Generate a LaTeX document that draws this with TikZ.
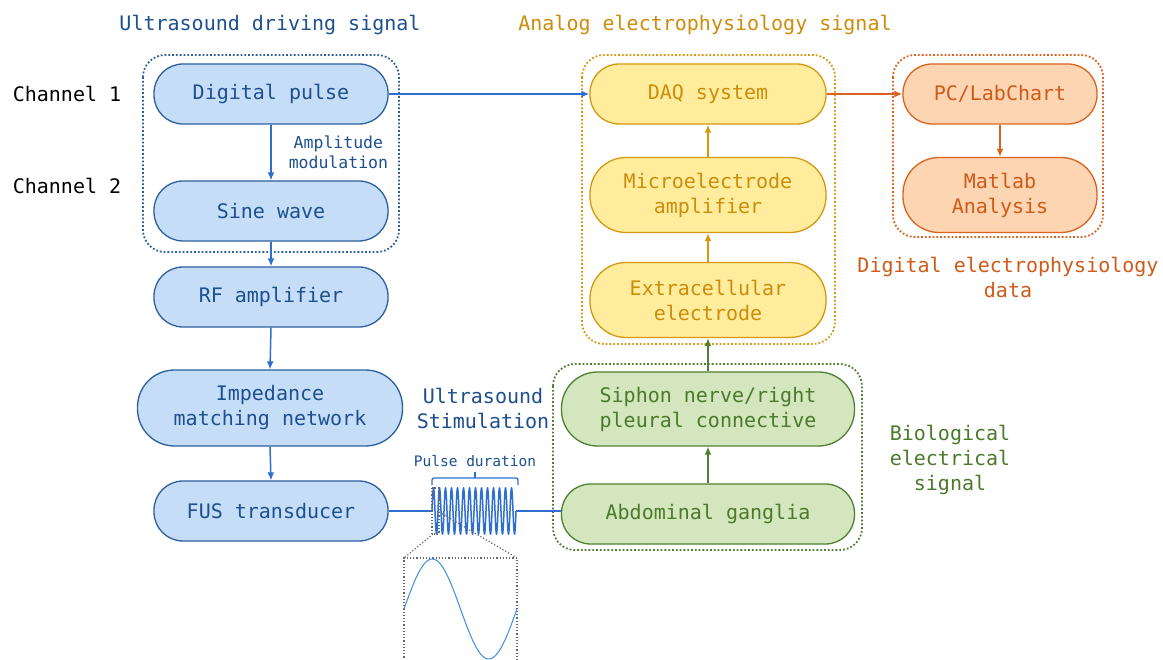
\documentclass[tikz,border=0pt]{standalone}
\usepackage{fontspec}
\newfontfamily\mono{DejaVu Sans Mono}
\usetikzlibrary{arrows.meta}
\definecolor{bfill}{HTML}{C5DDF7}
\definecolor{bdraw}{HTML}{2C5F9E}
\definecolor{btext}{HTML}{1E4F8F}
\definecolor{barrow}{HTML}{2F6FD1}
\definecolor{bsine}{HTML}{3A8EE0}
\definecolor{yfill}{HTML}{FFEC9C}
\definecolor{ydraw}{HTML}{D6980F}
\definecolor{ytext}{HTML}{CC8D0A}
\definecolor{ofill}{HTML}{FDD5B2}
\definecolor{odraw}{HTML}{D9631E}
\definecolor{otext}{HTML}{D05A18}
\definecolor{gfill}{HTML}{D4E6BE}
\definecolor{gdraw}{HTML}{4F7F30}
\definecolor{gtext}{HTML}{4A7A2A}
\definecolor{zoomgray}{HTML}{666666}
\begin{document}
\begin{tikzpicture}[x=1pt,y=-1pt,
  font=\mono\fontsize{20}{25}\selectfont,
  stage/.style={rectangle, line width=1.3pt, align=center, inner sep=0pt},
  blu/.style={stage, fill=bfill, draw=bdraw, text=btext},
  yel/.style={stage, fill=yfill, draw=ydraw, text=ytext},
  ora/.style={stage, fill=ofill, draw=odraw, text=otext},
  grn/.style={stage, fill=gfill, draw=gdraw, text=gtext},
  hsixty/.style={minimum height=60pt, rounded corners=29pt},
  hseventyfive/.style={minimum height=75pt, rounded corners=36pt},
  arr/.style={-{Latex[length=8pt,width=7pt]}, line width=1.5pt},
  grp/.style={dotted, line width=1.8pt, rounded corners=22pt},
  lbl/.style={align=center, inner sep=0pt},
]
\useasboundingbox (0,0) rectangle (1163,660);
\fill[white] (0,0) rectangle (1163,660);

% group containers
\draw[grp, draw=bdraw] (143,55) rectangle (399,252);
\draw[grp, draw=ydraw] (582,55) rectangle (835,344);
\draw[grp, draw=odraw] (893,55) rectangle (1103,237);
\draw[grp, draw=gdraw] (553,364) rectangle (862,550);

% titles
\node[lbl, text=btext] (t1) at (270,25) {Ultrasound driving signal};
\node[lbl, text=ytext] (t2) at (705,25) {Analog electrophysiology signal};
\node[lbl, text=otext] (t3) at (1008,277) {Digital electrophysiology\\data};
\node[lbl, text=gtext] (t4) at (950,460) {Biological\\electrical\\signal};
\node[lbl, text=btext] (t5) at (483,408) {Ultrasound\\Stimulation};
\node[lbl, text=black] (ch1) at (67,94) {Channel 1};
\node[lbl, text=black] (ch2) at (67,186) {Channel 2};

% blue chain
\node[blu, hsixty, minimum width=234pt] (dp) at (271,94) {Digital pulse};
\node[blu, hsixty, minimum width=234pt] (sw) at (271,211) {Sine wave};
\node[blu, hsixty, minimum width=234pt] (rf) at (271,297) {RF amplifier};
\node[blu, minimum height=76pt, rounded corners=37pt, minimum width=265pt] (imp) at (270,408) {Impedance\\matching network};
\node[blu, hsixty, minimum width=234pt] (fus) at (271,511) {FUS transducer};

% yellow chain
\node[yel, hsixty, minimum width=236pt] (daq) at (708,94) {DAQ system};
\node[yel, hseventyfive, minimum width=236pt] (mic) at (708,195) {Microelectrode\\amplifier};
\node[yel, hseventyfive, minimum width=236pt] (ext) at (708,300) {Extracellular\\electrode};

% orange chain
\node[ora, hsixty, minimum width=194pt] (pc) at (1000,94) {PC/LabChart};
\node[ora, hseventyfive, minimum width=194pt] (mat) at (1000,195) {Matlab\\Analysis};

% green chain
\node[grn, minimum height=74pt, rounded corners=36pt, minimum width=293pt] (sip) at (708,409) {Siphon nerve/right\\pleural connective};
\node[grn, hsixty, minimum width=293pt] (abd) at (708,514) {Abdominal ganglia};

% arrows
\draw[arr, draw=barrow] (dp.east) -- (daq.west);
\draw[arr, draw=barrow] (dp.south) -- (sw.north)
  node[midway, right=17pt, lbl, text=btext, font=\mono\fontsize{16.5}{20}\selectfont] (am) {Amplitude\\modulation};
\draw[arr, draw=barrow] (sw.south) -- (rf.north);
\draw[arr, draw=barrow] (rf.south) -- (imp.north);
\draw[arr, draw=barrow] (imp.south) -- (fus.north);
\draw[arr, draw=ydraw] (ext.north) -- (mic.south);
\draw[arr, draw=ydraw] (mic.north) -- (daq.south);
\draw[arr, draw=odraw] (daq.east) -- (pc.west);
\draw[arr, draw=odraw] (pc.south) -- (mat.north);
\draw[arr, draw=gdraw] (sip.north) -- (ext.south);
\draw[arr, draw=gdraw] (abd.north) -- (sip.south);

% pulse
\coordinate (ws) at (432,511);
\coordinate (we) at (516,511);
\draw[barrow, line width=1.5pt] (fus.east) -- (ws);
\draw[barrow, line width=1.5pt] (we) -- (we -| abd.west);
\draw[barrow, line width=1.5pt] plot[domain=0:84, samples=1200] ({432+\x}, {511-23*sin(\x*60)});
\node[lbl, text=btext, font=\mono\fontsize{14.5}{17}\selectfont] (pd) at (475,461) {Pulse duration};
\draw[barrow, line width=1.3pt, rounded corners=2pt] (432,485) -- (432,478) -- (518,478) -- (518,485);
\draw[barrow, line width=1.3pt] (475,478) -- (475,472);

% zoom
\draw[zoomgray, dotted, line width=1.2pt] (432,488) rectangle (439,534);
\draw[zoomgray, dotted, line width=1.2pt] (433,534) -- (404,558);
\draw[zoomgray, dotted, line width=1.2pt] (439,512) -- (517,558);
\draw[zoomgray, dotted, line width=1.2pt] (404,664) -- (404,558) -- (517,558) -- (517,664);
\draw[bsine, line width=1pt] plot[domain=0:113, samples=200] ({404+\x}, {609-50*sin(\x*3.18584)});
\end{tikzpicture}
\end{document}
